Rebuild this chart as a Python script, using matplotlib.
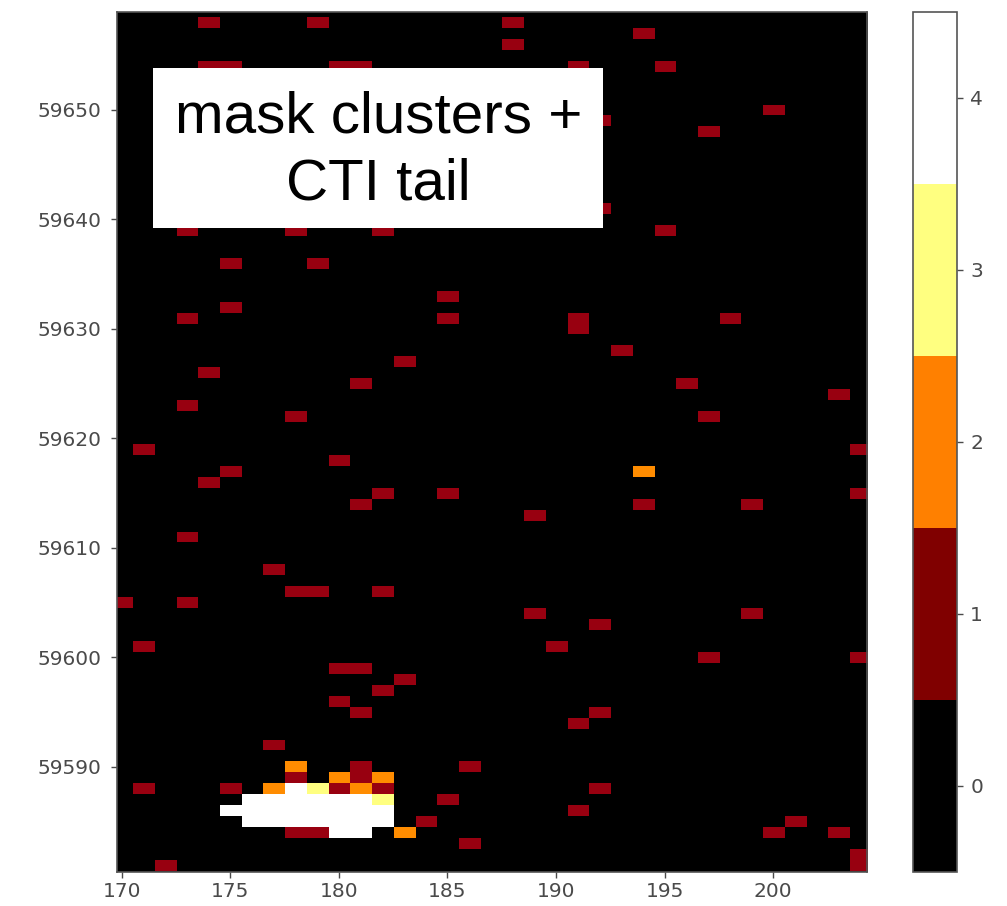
import numpy as np
import matplotlib
matplotlib.use('Agg')
import matplotlib.pyplot as plt
from matplotlib.cm import ScalarMappable
from matplotlib.colors import BoundaryNorm, ListedColormap
from matplotlib.patches import Rectangle

# pixel columns and rows, one list per mask value
ones_col = [174, 179, 188, 188, 194, 195, 174, 175, 180, 181, 191, 192, 192, 195, 197, 200,
            173, 178, 182, 175, 179, 185, 175, 173, 185, 191, 191, 198, 193, 183, 181, 196,
            174, 203, 173, 178, 197, 171, 204, 180, 175, 174, 182, 185, 204, 181, 194, 199,
            189, 173, 177, 178, 179, 182, 170, 173, 189, 199, 192, 171, 190, 197, 204, 180,
            181, 183, 182, 180, 181, 192, 191, 177, 186, 171, 175, 192, 185, 191, 184, 186,
            172, 201, 200, 203, 204, 204,
            181, 178, 181, 175, 180, 182, 178, 179]
ones_row = [59658, 59658, 59658, 59656, 59657, 59654, 59654, 59654, 59654, 59654, 59654, 59649, 59641, 59639, 59648, 59650,
            59639, 59639, 59639, 59636, 59636, 59633, 59632, 59631, 59631, 59631, 59630, 59631, 59628, 59627, 59625, 59625,
            59626, 59624, 59623, 59622, 59622, 59619, 59619, 59618, 59617, 59616, 59615, 59615, 59615, 59614, 59614, 59614,
            59613, 59611, 59608, 59606, 59606, 59606, 59605, 59605, 59604, 59604, 59603, 59601, 59601, 59600, 59600, 59599,
            59599, 59598, 59597, 59596, 59595, 59595, 59594, 59592, 59590, 59588, 59588, 59588, 59587, 59586, 59585, 59583,
            59581, 59585, 59584, 59584, 59582, 59581,
            59590, 59589, 59589, 59588, 59588, 59588, 59584, 59584]

twos_col = [194, 178, 180, 182, 177, 181, 183]
twos_row = [59617, 59590, 59589, 59589, 59588, 59588, 59584]

threes_col = [179, 182]
threes_row = [59588, 59587]

fours_col = [178, 176, 177, 178, 179, 180, 181,
             175, 176, 177, 178, 179, 180, 181, 182,
             176, 177, 178, 179, 180, 181, 182, 180, 181]
fours_row = [59588, 59587, 59587, 59587, 59587, 59587, 59587,
             59586, 59586, 59586, 59586, 59586, 59586, 59586, 59586,
             59585, 59585, 59585, 59585, 59585, 59585, 59585, 59584, 59584]

x_ticks = [170, 175, 180, 185, 190, 195, 200]
y_ticks = [59590, 59600, 59610, 59620, 59630, 59640, 59650]
cbar_ticks = [0, 1, 2, 3, 4]
note_text = 'mask clusters +\nCTI tail'

W, H = 1007, 906
TICK_COLOR = '#4a4a4a'
SPINE_COLOR = '#555555'
# cells look a bit redder than the colorbar in the screenshot
CELL_COLORS = ['#000000', '#980010', '#ff8c00', '#ffff80', '#ffffff']


def make_grid():
    col0, row0 = 170, 59580
    grid = np.zeros((59661 - row0, 206 - col0), dtype=int)
    for value, cols, rows in [(1, ones_col, ones_row), (2, twos_col, twos_row),
                              (3, threes_col, threes_row), (4, fours_col, fours_row)]:
        for c, r in zip(cols, rows):
            grid[r - row0, c - col0] = value
    return grid, col0, row0


def px_axes(fig, left, top, right, bottom):
    return fig.add_axes([left / W, 1 - bottom / H, (right - left) / W, (bottom - top) / H])


def main():
    fig = plt.figure(figsize=(W / 100, H / 100), dpi=100)
    ax = px_axes(fig, 116.5, 12, 867, 871.7)
    cax = px_axes(fig, 913, 12, 957, 871.7)

    grid, col0, row0 = make_grid()
    norm = BoundaryNorm(np.arange(-0.5, 5), 5)
    ax.imshow(grid, origin='lower', cmap=ListedColormap(CELL_COLORS), norm=norm, aspect='auto',
              interpolation='nearest',
              extent=[col0 - 0.5, col0 + grid.shape[1] - 0.5, row0 - 0.5, row0 + grid.shape[0] - 0.5])
    ax.set_xlim(169.76, 204.32)
    ax.set_ylim(59580.4, 59658.95)
    ax.set_xticks(x_ticks)
    ax.set_yticks(y_ticks)
    ax.tick_params(labelsize=14.5, length=4.5, width=1, pad=3, color=TICK_COLOR, labelcolor=TICK_COLOR)
    ax.tick_params(axis='y', pad=6.5)
    ax.ticklabel_format(useOffset=False, style='plain')

    cbar = fig.colorbar(ScalarMappable(norm=norm, cmap=plt.get_cmap('afmhot', 5)), cax=cax, ticks=cbar_ticks)
    cbar.ax.tick_params(labelsize=14.5, length=4.5, width=1, pad=5, color=TICK_COLOR, labelcolor=TICK_COLOR)
    cbar.ax.minorticks_off()
    cbar.outline.set_edgecolor(SPINE_COLOR)
    cbar.outline.set_linewidth(1.2)
    for spine in ax.spines.values():
        spine.set_edgecolor(SPINE_COLOR)
        spine.set_linewidth(1.2)

    # white note box pasted on top of the image
    fig.add_artist(Rectangle((153 / W, 1 - 228 / H), 450 / W, 160 / H, transform=fig.transFigure,
                             facecolor='white', edgecolor='none', zorder=5))
    fig.text(378.5 / W, 1 - 151 / H, note_text, ha='center', va='center', fontsize=42,
             family='Liberation Sans', color='black', linespacing=1.3, zorder=6)

    fig.savefig('out.png', dpi=100)


if __name__ == "__main__":
    main()
